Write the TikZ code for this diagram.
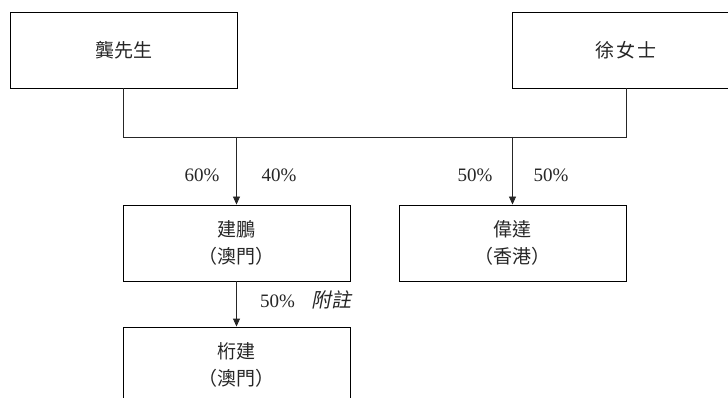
\documentclass[tikz,border=0pt]{standalone}
\usepackage{fontspec}
\setmainfont{Liberation Serif}
\newfontfamily\cjk{Noto Sans CJK TC}
\newfontfamily\cjkslant[FakeSlant=0.2]{Noto Sans CJK TC}
\usetikzlibrary{arrows.meta}
\begin{document}
\begin{tikzpicture}[x=1pt,y=-1pt,
  entity/.style={draw, line width=0.9pt, minimum width=227pt, minimum height=76pt, inner sep=0pt, align=center, font=\cjk\fontsize{19}{27}\selectfont, text=black!85},
  conn/.style={line width=0.9pt, draw=black!85},
  arr/.style={conn, -{Triangle[length=8pt,width=7pt]}},
  pct/.style={font=\fontsize{19}{22}\selectfont, text=black!85, inner sep=0pt}]
\useasboundingbox (0,0) rectangle (728,398);
\clip (0,0) rectangle (728,398);
\node[entity] (mrg) at (123.5,50) {龔先生};
\node[entity] (msx) at (626,50) {徐\hspace{2pt}女\hspace{2pt}士};
\node[entity] (jp) at (236.5,243) {建鵬\\（澳門）};
\node[entity] (wd) at (512.5,243) {偉達\\（香港）};
\node[entity] (hj) at (236.5,365) {桁建\\（澳門）};
\coordinate (jl) at (123.5,137);
\coordinate (jr) at (626,137);
\coordinate (ja) at (236.5,137);
\coordinate (jb) at (512.5,137);
\draw[conn] (mrg.south) -- (jl) -- (jr) -- (msx.south);
\draw[arr] (ja) -- (jp.north);
\draw[arr] (jb) -- (wd.north);
\draw[arr] (jp.south) -- (hj.north);
\node[pct] (l1) at (202,175) {60\%};
\node[pct] (l2) at (279,175) {40\%};
\node[pct] (l3) at (475,175) {50\%};
\node[pct] (l4) at (551,175) {50\%};
\node[pct, anchor=west] (l5) at (260,300) {50\%\hspace{16pt}{\cjkslant\fontsize{20}{22}\selectfont 附註}};
\end{tikzpicture}
\end{document}
